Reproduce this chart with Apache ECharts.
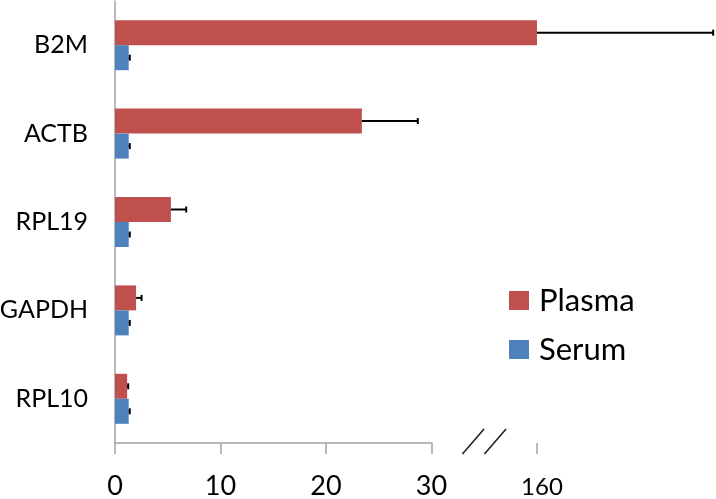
<!DOCTYPE html>
<html><head><meta charset="utf-8">
<script src="https://cdn.jsdelivr.net/npm/echarts@6/dist/echarts.min.js"></script>
<style>html,body{margin:0;padding:0;background:#fff}#c{width:716px;height:499px}</style>
</head><body><div id="c"></div>
<script>
const categories = ['B2M', 'ACTB', 'RPL19', 'GAPDH', 'RPL10'];
const plasma = [160, 23.4, 5.3, 2.0, 1.15];
const plasmaErr = [16.7, 5.3, 1.45, 0.52, 0.1];
const serum = [1.3, 1.3, 1.3, 1.3, 1.3];
const serumErr = [0.1, 0.1, 0.1, 0.1, 0.1];
const xTickLabels = [0, 10, 20, 30, 160];
const axisBreak = { start: 30, end: 160, gap: 10 };

const FONT = 'Lato';
const RED = '#C0504D', BLUE = '#4F81BD', AXIS = '#a3a3a3';
const W = 716, H = 499;
const GRID = { left: 115, right: 179, top: 1, bottom: 56, outerBoundsMode: 'none', containLabel: false };
const BAR_W = 25;

const chart = echarts.init(document.getElementById('c'), null, { renderer: 'canvas' });

function errRenderer(offset) {
  return function (params, api) {
    const i = api.value(0), v = api.value(1), e = api.value(2);
    const p0 = api.coord([v, i]);
    const p1 = api.coord([v + e, i]);
    const y = p0[1] + offset;
    const style = { stroke: '#000', lineWidth: 2 };
    return {
      type: 'group',
      children: [
        { type: 'line', shape: { x1: p0[0], y1: y, x2: p1[0], y2: y }, style: style },
        { type: 'line', shape: { x1: p1[0], y1: y - 3, x2: p1[0], y2: y + 3 }, style: style }
      ]
    };
  };
}

chart.setOption({
  animation: false,
  backgroundColor: '#fff',
  grid: GRID,
  legend: {
    orient: 'vertical', left: 509, top: 285, padding: 0,
    itemWidth: 20, itemHeight: 19, itemGap: 18, icon: 'rect',
    textStyle: { fontFamily: FONT, fontSize: 31, lineHeight: 31, color: '#000', padding: [0, 0, 0, 5] },
    data: ['Plasma', 'Serum']
  },
  xAxis: {
    type: 'value', min: 0, max: 160, interval: 10,
    breaks: [axisBreak],
    breakArea: { show: false },
    axisLine: { show: true, lineStyle: { color: AXIS, width: 1.5 } },
    axisTick: { show: true, length: 11, lineStyle: { color: AXIS, width: 1.5 } },
    splitLine: { show: false },
    axisLabel: {
      margin: 30, fontFamily: FONT, fontSize: 27, color: '#000',
      formatter: function (v) {
        if (xTickLabels.indexOf(v) < 0) return '';
        if (v === 160) return '{s|' + v + '}';
        return String(v);
      },
      rich: { s: { fontFamily: FONT, fontSize: 24, color: '#000', padding: [2, 0, 0, 10] } }
    }
  },
  yAxis: {
    type: 'category', data: categories, inverse: true,
    axisLine: { show: true, lineStyle: { color: AXIS, width: 1.5 } },
    axisTick: { show: false },
    axisLabel: { margin: 27, fontFamily: FONT, fontSize: 25, color: '#000' }
  },
  series: [
    { name: 'Plasma', type: 'bar', data: plasma, barWidth: BAR_W, barGap: '0%', itemStyle: { color: RED } },
    { name: 'Serum', type: 'bar', data: serum, barWidth: BAR_W, barGap: '0%', itemStyle: { color: BLUE } },
    {
      type: 'custom', name: 'plasmaErr', renderItem: errRenderer(-BAR_W / 2), clip: false, z: 5,
      encode: { x: [1, 2], y: 0 },
      data: plasma.map((v, i) => [i, v, plasmaErr[i]])
    },
    {
      type: 'custom', name: 'serumErr', renderItem: errRenderer(BAR_W / 2), clip: false, z: 5,
      encode: { x: [1, 2], y: 0 },
      data: serum.map((v, i) => [i, v, serumErr[i]])
    }
  ]
});

// break marks "//" on the axis
const xa = chart.convertToPixel({ xAxisIndex: 0 }, axisBreak.start);
const xb = chart.convertToPixel({ xAxisIndex: 0 }, axisBreak.end);
const mid = (xa + xb) / 2;
const axY = H - GRID.bottom - 1.5;
const slash = (cx) => ({
  type: 'line',
  shape: { x1: cx - 10.8, y1: axY + 12.5, x2: cx + 10.8, y2: axY - 12.5 },
  style: { stroke: '#222', lineWidth: 1.6 }, z: 10
});
chart.setOption({ graphic: [slash(mid - 11), slash(mid + 11)] });
</script>
</body></html>
